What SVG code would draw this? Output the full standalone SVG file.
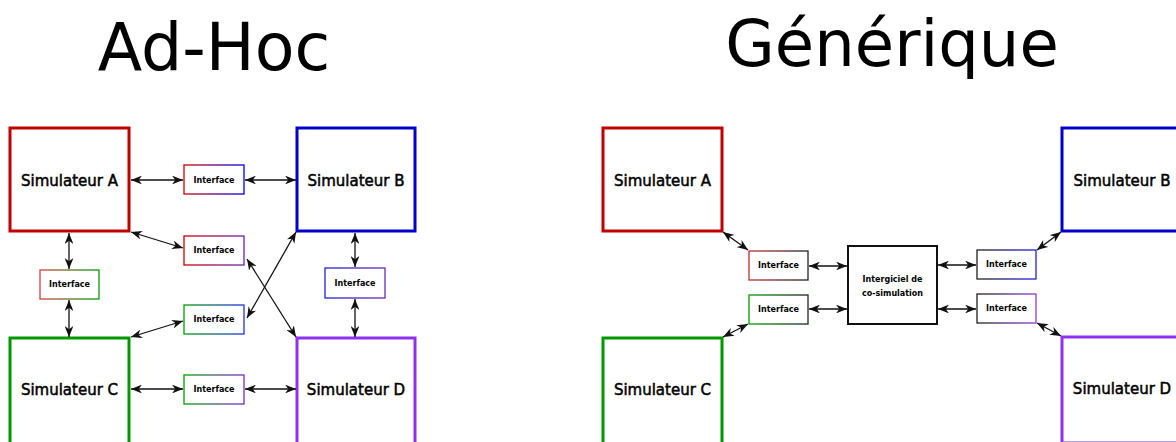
<svg xmlns="http://www.w3.org/2000/svg" width="1176" height="442" viewBox="0 0 1176 442">
<defs>
<marker id="ar" viewBox="0 0 10 8" refX="10" refY="4" markerWidth="11" markerHeight="8.8" markerUnits="userSpaceOnUse" orient="auto-start-reverse">
<path d="M10,4 L0,0 L3,4 L0,8 Z" fill="#111"/>
</marker>
<linearGradient id="g-rb" x1="0" y1="0" x2="1" y2="0"><stop offset="0" stop-color="#d00000"/><stop offset="1" stop-color="#0000e0"/></linearGradient>
<linearGradient id="g-rp" x1="0" y1="0" x2="1" y2="0"><stop offset="0" stop-color="#d00000"/><stop offset="1" stop-color="#6a1fb0"/></linearGradient>
<linearGradient id="g-gb" x1="0" y1="0" x2="1" y2="0"><stop offset="0" stop-color="#00a000"/><stop offset="1" stop-color="#2030e0"/></linearGradient>
<linearGradient id="g-gp" x1="0" y1="0" x2="1" y2="0"><stop offset="0" stop-color="#00a000"/><stop offset="1" stop-color="#7a2ad0"/></linearGradient>
<linearGradient id="g-rg" x1="0" y1="0" x2="1" y2="0"><stop offset="0" stop-color="#d04040"/><stop offset="1" stop-color="#00a000"/></linearGradient>
<linearGradient id="g-bp" x1="0" y1="0" x2="1" y2="0"><stop offset="0" stop-color="#2020e0"/><stop offset="1" stop-color="#6a2ab0"/></linearGradient>
<linearGradient id="g-rk" x1="0" y1="0" x2="1" y2="0"><stop offset="0" stop-color="#c03030"/><stop offset="1" stop-color="#202020"/></linearGradient>
<linearGradient id="g-gk" x1="0" y1="0" x2="1" y2="0"><stop offset="0" stop-color="#00a000"/><stop offset="1" stop-color="#202020"/></linearGradient>
<linearGradient id="g-kb" x1="0" y1="0" x2="1" y2="0"><stop offset="0" stop-color="#202020"/><stop offset="1" stop-color="#2020e0"/></linearGradient>
<linearGradient id="g-kp" x1="0" y1="0" x2="1" y2="0"><stop offset="0" stop-color="#202020"/><stop offset="1" stop-color="#8a3ad0"/></linearGradient>
</defs>
<style>
.title{font-family:"DejaVu Sans",sans-serif;font-size:64px;fill:#000;text-anchor:middle}
.sim{fill:#fff;stroke-width:3}
.simt{font-family:"DejaVu Sans",sans-serif;font-size:15px;fill:#000;stroke:#000;stroke-width:0.5;text-anchor:middle}
.itf{fill:#fff;stroke-width:1.3}
.itft{font-family:"DejaVu Sans",sans-serif;font-size:8px;font-weight:bold;fill:#000;text-anchor:middle}
.red{stroke:#c00000}.blue{stroke:#0000cc}.green{stroke:#009900}.purple{stroke:#9030f0}
.con line{stroke:#111;stroke-width:1.3;marker-start:url(#ar);marker-end:url(#ar)}
</style>
<rect width="1176" height="442" fill="#fff"/>
<text class="title" x="214" y="70" style="font-size:65px">Ad-Hoc</text>
<text class="title" x="892" y="66">Générique</text>

<g id="L-simA"><rect class="sim red" x="10" y="128" width="119" height="103"/><text class="simt" x="69.5" y="186">Simulateur A</text></g>
<g id="L-simB"><rect class="sim blue" x="297" y="128" width="118" height="103"/><text class="simt" x="356" y="186">Simulateur B</text></g>
<g id="L-simC"><rect class="sim green" x="10" y="338" width="119" height="106"/><text class="simt" x="69.5" y="395">Simulateur C</text></g>
<g id="L-simD"><rect class="sim purple" x="297" y="338" width="118" height="106"/><text class="simt" x="356" y="395">Simulateur D</text></g>

<g id="L-itfAB"><rect class="itf" stroke="url(#g-rb)" x="184" y="165" width="60" height="29"/><text class="itft" x="214" y="183">Interface</text></g>
<g id="L-itfAD"><rect class="itf" stroke="url(#g-rp)" x="184" y="236" width="60" height="29"/><text class="itft" x="214" y="253">Interface</text></g>
<g id="L-itfCB"><rect class="itf" stroke="url(#g-gb)" x="184" y="305" width="60" height="29"/><text class="itft" x="214" y="322">Interface</text></g>
<g id="L-itfCD"><rect class="itf" stroke="url(#g-gp)" x="184" y="375" width="60" height="29"/><text class="itft" x="214" y="392">Interface</text></g>
<g id="L-itfAC"><rect class="itf" stroke="url(#g-rg)" x="40" y="270" width="59" height="29"/><text class="itft" x="69.5" y="287">Interface</text></g>
<g id="L-itfBD"><rect class="itf" stroke="url(#g-bp)" x="325" y="268" width="60" height="30"/><text class="itft" x="355" y="286">Interface</text></g>

<g id="R-simA"><rect class="sim red" x="603" y="128" width="119" height="103"/><text class="simt" x="662.5" y="186">Simulateur A</text></g>
<g id="R-simB"><rect class="sim blue" x="1062" y="128" width="120" height="103"/><text class="simt" x="1122" y="186">Simulateur B</text></g>
<g id="R-simC"><rect class="sim green" x="603" y="338" width="119" height="106"/><text class="simt" x="662.5" y="395">Simulateur C</text></g>
<g id="R-simD"><rect class="sim purple" x="1062" y="337" width="120" height="106"/><text class="simt" x="1122" y="394">Simulateur D</text></g>

<g id="R-itfA"><rect class="itf" stroke="url(#g-rk)" x="749" y="251" width="59" height="29"/><text class="itft" x="778.5" y="268">Interface</text></g>
<g id="R-itfC"><rect class="itf" stroke="url(#g-gk)" x="749" y="295" width="59" height="29"/><text class="itft" x="778.5" y="312">Interface</text></g>
<g id="R-itfB"><rect class="itf" stroke="url(#g-kb)" x="977" y="250" width="59" height="29"/><text class="itft" x="1006.5" y="267">Interface</text></g>
<g id="R-itfD"><rect class="itf" stroke="url(#g-kp)" x="977" y="294" width="59" height="29"/><text class="itft" x="1006.5" y="311">Interface</text></g>
<g id="R-mid"><rect x="848" y="246" width="89" height="78" fill="#fff" stroke="#111" stroke-width="2"/><text class="itft" x="892.5" y="282">Intergiciel de</text><text class="itft" x="892.5" y="296">co-simulation</text></g>

<g id="connectors" class="con">
<line x1="131" y1="180" x2="183" y2="180"/>
<line x1="245" y1="180" x2="296" y2="180"/>
<line x1="131" y1="232" x2="183" y2="248"/>
<line x1="247" y1="259" x2="296" y2="337"/>
<line x1="247" y1="318" x2="296" y2="232"/>
<line x1="131" y1="337" x2="183" y2="321"/>
<line x1="131" y1="389" x2="183" y2="389"/>
<line x1="245" y1="389" x2="296" y2="389"/>
<line x1="69" y1="233" x2="69" y2="269"/>
<line x1="69" y1="300" x2="69" y2="337"/>
<line x1="355" y1="233" x2="355" y2="267"/>
<line x1="355" y1="299" x2="355" y2="337"/>
<line x1="723" y1="232" x2="748" y2="250"/>
<line x1="723" y1="337" x2="748" y2="324"/>
<line x1="809" y1="266" x2="847" y2="266"/>
<line x1="809" y1="309" x2="847" y2="309"/>
<line x1="938" y1="265" x2="976" y2="265"/>
<line x1="938" y1="309" x2="976" y2="309"/>
<line x1="1037" y1="250" x2="1061" y2="232"/>
<line x1="1037" y1="323" x2="1061" y2="336"/>
</g>
</svg>
